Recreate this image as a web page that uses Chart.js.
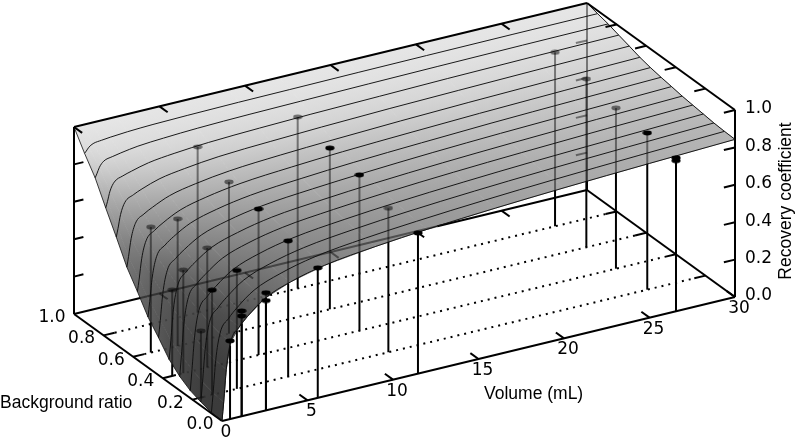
<!DOCTYPE html>
<html>
<head>
<meta charset="utf-8">
<style>html,body{margin:0;padding:0;background:#fff}canvas{display:block}</style>
<script src="https://cdn.jsdelivr.net/npm/chart.js@4"></script>
</head>
<body>
<canvas id="c" width="797" height="440"></canvas>
<script>
// ---- data ----
const surfaceVolumes = [0,0.1,0.25,0.5,1,1.5,2.5,4,6,9,12,16,20,25,30];
const surfaceRatios = [0,0.0714,0.1429,0.2143,0.2857,0.3571,0.4286,0.5,0.5714,0.6429,0.7143,0.7857,0.8571,0.9286,1];
const row00 = [0,.10,.27,.41,.48,.527,.60,.655,.70,.735,.76,.785,.805,.825,.843];
const row01 = [.005,.107,.277,.416,.485,.532,.604,.658,.703,.738,.762,.787,.807,.827,.845];
const row02 = [.02,.125,.293,.434,.501,.546,.616,.669,.712,.746,.770,.794,.813,.832,.849];
const row03 = [.04,.15,.32,.457,.522,.565,.632,.683,.724,.756,.779,.802,.821,.839,.856];
const row04 = [.075,.185,.355,.485,.548,.588,.652,.700,.739,.769,.791,.813,.830,.848,.863];
const row05 = [.125,.225,.388,.51,.571,.610,.670,.715,.753,.781,.802,.823,.839,.856,.870];
const row06 = [.20,.29,.432,.547,.602,.638,.694,.736,.771,.797,.816,.836,.851,.866,.880];
const row07 = [.27,.35,.478,.582,.633,.667,.718,.757,.789,.813,.831,.848,.863,.877,.889];
const row08 = [.365,.429,.536,.625,.670,.700,.746,.781,.810,.832,.848,.863,.876,.889,.900];
const row09 = [.455,.510,.602,.678,.717,.742,.782,.812,.837,.856,.869,.883,.894,.905,.914];
const row10 = [.575,.618,.690,.749,.779,.799,.830,.853,.873,.887,.898,.909,.917,.926,.933];
const row11 = [.69,.721,.774,.817,.839,.853,.876,.893,.907,.918,.926,.933,.940,.946,.951];
const row12 = [.81,.829,.861,.888,.901,.910,.924,.934,.943,.950,.954,.959,.963,.967,.970];
const row13 = [.90,.91,.927,.941,.948,.953,.96,.966,.97,.974,.976,.979,.981,.983,.984];
const row14 = [1,1,1,1,1,1,1,1,1,1,1,1,1,1,1];
const surfaceRows = [row00,row01,row02,row03,row04,row05,row06,row07,row08,row09,row10,row11,row12,row13,row14];

const pointVolumes  = [.47,1.15,1.15,2.57,2.57,5.6,11.46,26.55,26.55, .5,1.15,2.6,5.6,11.46,26.6, .55,1.2,2.6,5.6,11.5,26.5, 1.03,2.6,5.6,11.5,26.5, 5.5,11.35,26.4];
const pointRatios   = [0,0,0,0,0,0,0,0,0, .2,.2,.2,.2,.2,.2, .4,.4,.4,.4,.4,.4, .6,.6,.6,.6,.6, .8,.8,.8];
const pointRecovery = [.418,.563,.536,.629,.587,.695,.752,.82,.805, .356,.56,.633,.725,.77,.838, .46,.552,.639,.781,.833,.859, .671,.68,.811,.862,.90, .886,.917,.93];
const pointBelow    = [0,0,0,0,0,0,0,0,0, 1,0,0,0,1,0, 1,1,1,0,0,1, 1,1,1,0,1, 1,1,1];

const volumeTicks = [0,5,10,15,20,25,30];
const ratioTicks = [0,0.2,0.4,0.6,0.8,1];
const recoveryTicks = [0,0.2,0.4,0.6,0.8,1];

// ---- oblique view of the three axes, in plot units ----
function proj(v,b,z){ return {x:222+v*17.1-b*148, y:421-v*4.133-b*107-z*187}; }

const cv = document.getElementById('c');
const g2 = cv.getContext('2d');
const ds = [];   // in paint order

function lerpTable(t,z){
  for(let i=1;i<t.length;i++){ if(z<=t[i][0]){const a=t[i-1],c=t[i];return a[1]+(c[1]-a[1])*(z-a[0])/(c[0]-a[0]);} }
  return t[t.length-1][1];
}
const shadeTable=[[0,58],[.3,62],[.5,78],[.7,130],[.76,150],[.84,180],[.9,202],[1,230]];
function shade(z,b){ return Math.min(235,lerpTable(shadeTable,z)+180*b*b*(1-z)); }
function grey(g){ const n=Math.round(Math.max(0,Math.min(255,g))); return 'rgb('+n+','+n+','+n+')'; }
// gradient that follows the slope of the shade across one surface cell
function cellGradient(p,s){
  const mx=(p[0].x+p[1].x+p[2].x+p[3].x)/4,my=(p[0].y+p[1].y+p[2].y+p[3].y)/4,ms=(s[0]+s[1]+s[2]+s[3])/4;
  let a=0,b=0,c=0,d=0,e=0;
  for(let k=0;k<4;k++){const x=p[k].x-mx,y=p[k].y-my,t=s[k]-ms;a+=x*x;b+=x*y;c+=y*y;d+=x*t;e+=y*t;}
  const det=a*c-b*b; let gx=0,gy=0;
  if(Math.abs(det)>1e-6){gx=(c*d-b*e)/det;gy=(a*e-b*d)/det;}
  const len=Math.hypot(gx,gy);
  if(len<1e-6){return grey(ms);}
  let tMax=0;
  for(let k=0;k<4;k++){tMax=Math.max(tMax,Math.abs((p[k].x-mx)*gx+(p[k].y-my)*gy)/len);}
  tMax+=1;
  const ux=gx/len,uy=gy/len;
  const gr=g2.createLinearGradient(mx-ux*tMax,my-uy*tMax,mx+ux*tMax,my+uy*tMax);
  gr.addColorStop(0,grey(ms-len*tMax)); gr.addColorStop(1,grey(ms+len*tMax));
  return gr;
}
function line(pts,o){
  o=o||{};
  ds.push({data:pts,showLine:true,borderColor:o.color||'#000',borderWidth:o.width||1,borderDash:o.dash||[],
    backgroundColor:'transparent',fill:false,pointRadius:0,
    cubicInterpolationMode:o.mono?'monotone':'default',borderCapStyle:o.cap||'butt',tension:0});
}
// surface cells, back to front
for(let i=surfaceRows.length-2;i>=0;i--){
  for(let j=surfaceVolumes.length-2;j>=0;j--){
    const vA=surfaceVolumes[j],vB=surfaceVolumes[j+1],bA=surfaceRatios[i],bB=surfaceRatios[i+1];
    const zAA=surfaceRows[i][j],zBA=surfaceRows[i][j+1],zAB=surfaceRows[i+1][j],zBB=surfaceRows[i+1][j+1];
    const p=[proj(vA,bA,zAA),proj(vB,bA,zBA),proj(vB,bB,zBB),proj(vA,bB,zAB)];
    const gr=cellGradient(p,[shade(zAA,bA),shade(zBA,bA),shade(zBB,bB),shade(zAB,bB)]);
    ds.push({data:p,showLine:true,fill:'shape',backgroundColor:gr,borderColor:gr,borderWidth:1,pointRadius:0,tension:0});
  }
}
// outline of the surface for the covered test
const outline=[];
surfaceVolumes.forEach((v,j)=>outline.push(proj(v,0,surfaceRows[0][j])));
surfaceRatios.forEach((b,i)=>outline.push(proj(30,b,surfaceRows[i][surfaceVolumes.length-1])));
outline.push(proj(0,1,1));
for(let i=surfaceRatios.length-1;i>=0;i--) outline.push(proj(0,surfaceRatios[i],surfaceRows[i][0]));
function covered(p){
  let c=false;
  for(let i=0,j=outline.length-1;i<outline.length;j=i++){
    const a=outline[i],e=outline[j];
    if((a.y>p.y)!==(e.y>p.y) && p.x<(e.x-a.x)*(p.y-a.y)/(e.y-a.y)+a.x) c=!c;
  }
  return c;
}
const UNDER='rgba(0,0,0,0.45)';
function seg(a,e,o){
  o=o||{};
  const n=240; let runStart=a, cur=covered(a);
  const emit=(s,t,cv)=>line([s,t],{color:cv?(o.under||UNDER):(o.color||'#000'),width:o.width,dash:o.dash});
  for(let k=1;k<=n;k++){
    const q={x:a.x+(e.x-a.x)*k/n,y:a.y+(e.y-a.y)*k/n};
    const c=covered(q);
    if(c!==cur){ emit(runStart,q,cur); runStart=q; cur=c; }
  }
  emit(runStart,e,cur);
}
const W=2;
// floor grid (dotted) and its ticks
ratioTicks.slice(1,5).forEach(b=>{
  seg(proj(0,b,0),proj(0.65,b,0),{width:W});
  seg(proj(0.65,b,0),proj(29.35,b,0),{width:2,dash:[2,5],under:'rgba(0,0,0,0.22)'});
  seg(proj(29.35,b,0),proj(30,b,0),{width:W});
});
// box
seg(proj(0,1,0),proj(30,1,0),{width:W});
seg(proj(30,1,0),proj(30,1,1),{width:W});
seg(proj(0,0,0),proj(30,0,0),{width:W});
seg(proj(0,0,0),proj(0,1,0),{width:W});
seg(proj(30,0,0),proj(30,1,0),{width:W});
seg(proj(0,1,0),proj(0,1,1),{width:W});
seg(proj(30,0,0),proj(30,0,1),{width:W});
// ticks
volumeTicks.forEach(v=>{
  if(v>0){seg(proj(v,0,0),proj(v,0.055,0),{width:W});}
  if(v>0&&v<30){seg(proj(v,1,0),proj(v,0.945,0),{width:W});}
});
recoveryTicks.slice(1).forEach(z=>{
  seg(proj(30,0,z),proj(29.35,0,z),{width:W});
  if(z<1){ seg(proj(0,1,z),proj(0.55,1,z),{width:W}); seg(proj(30,1,z),proj(29.35,1,z),{width:W}); }
});
// stems
pointVolumes.forEach((v,i)=>{
  seg(proj(v,pointRatios[i],0),proj(v,pointRatios[i],pointRecovery[i]),{width:2});
});
// markers
function marker(color){
  const m=document.createElement('canvas'); m.width=10; m.height=6;
  const c=m.getContext('2d'); c.fillStyle=color; c.beginPath(); c.ellipse(5,3,4.6,2.4,0,0,Math.PI*2); c.fill();
  return m;
}
const dotsBlack=[],dotsGrey=[];
pointVolumes.forEach((v,i)=>{
  (pointBelow[i]?dotsGrey:dotsBlack).push(proj(v,pointRatios[i],pointRecovery[i]));
});
ds.push({data:dotsGrey,showLine:false,pointStyle:marker('rgba(0,0,0,0.5)'),pointRadius:4});
// contour lines on the surface
surfaceRows.forEach((r,i)=>{
  if(i===surfaceRows.length-1) return;
  line(r.map((z,j)=>proj(surfaceVolumes[j],surfaceRatios[i],z)),{color:'rgba(15,15,15,0.95)',width:1,mono:true});
});
line(surfaceRatios.map((b,i)=>proj(30,b,surfaceRows[i][surfaceVolumes.length-1])),{color:'rgba(15,15,15,0.95)',width:1});
line(surfaceRatios.map((b,i)=>proj(0,b,surfaceRows[i][0])),{color:'rgba(15,15,15,0.8)',width:1});
// top edges of the box and their ticks stay on top
line([proj(0,1,1),proj(30,1,1)],{width:W});
line([proj(30,1,1),proj(30,0,1)],{width:W});
volumeTicks.forEach(v=>{ if(v<30) line([proj(v,1,1),proj(v,0.945,1)],{width:W}); });
ratioTicks.slice(1,5).forEach(b=>{ line([proj(30,b,1),proj(29.35,b,1)],{width:W}); });
ds.push({data:dotsBlack,showLine:false,pointStyle:marker('#000'),pointRadius:4});

const textPlugin={
  id:'axisText',
  afterDraw(ch){
    const c=ch.ctx, sx=ch.scales.x, sy=ch.scales.y;
    const px=p=>({x:sx.getPixelForValue(p.x),y:sy.getPixelForValue(p.y)});
    c.save(); c.fillStyle='#000'; c.textBaseline='middle';
    c.font='17px "DejaVu Sans"'; c.textAlign='center';
    volumeTicks.forEach(v=>{const p=px(proj(v,0,0)); c.fillText(String(v),p.x+4,p.y+11.5);});
    ratioTicks.forEach(b=>{const p=px(proj(0,b,0)); c.fillText(b.toFixed(1),p.x-22,p.y+3.5);});
    c.textAlign='left';
    recoveryTicks.forEach(z=>{const p=px(proj(30,0,z)); c.fillText(z.toFixed(1),p.x+10,p.y-1);});
    c.font='17.5px "Liberation Sans"';
    c.fillText('Background ratio',0,403);
    c.fillText('Volume (mL)',484,394);
    c.translate(786,201); c.rotate(-Math.PI/2); c.textAlign='center';
    c.fillText('Recovery coefficient',0,0);
    c.restore();
  }
};
new Chart(cv,{
  type:'scatter',
  data:{datasets:ds.slice().reverse()},
  options:{
    responsive:false,animation:false,events:[],
    layout:{padding:0,autoPadding:false},
    plugins:{legend:{display:false},tooltip:{enabled:false},title:{display:false}},
    scales:{
      x:{type:'linear',display:false,min:0,max:797},
      y:{type:'linear',display:false,min:0,max:440,reverse:true}
    }
  },
  plugins:[textPlugin]
});
</script>
</body>
</html>
